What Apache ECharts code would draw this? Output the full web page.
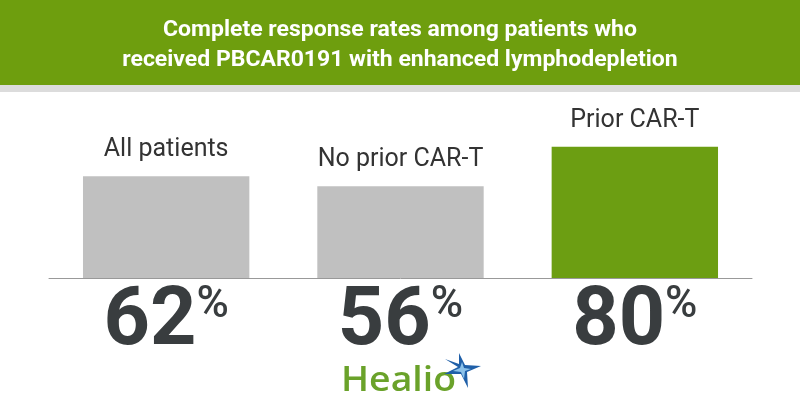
<!DOCTYPE html>
<html>
<head>
<meta charset="utf-8">
<script src="https://cdn.jsdelivr.net/npm/echarts@6/dist/echarts.min.js"></script>
<style>
  html, body { margin: 0; padding: 0; background: #fff; }
  #chart { width: 800px; height: 420px; }
</style>
</head>
<body>
<div id="chart"></div>
<script>
// data
const groups = ['All patients', 'No prior CAR-T', 'Prior CAR-T'];
const rates = [62, 56, 80];
const barColors = ['#c0c0c0', '#c0c0c0', '#6c9e12'];

const titleLines = [
  'Complete response rates among patients who',
  'received PBCAR0191 with enhanced lymphodepletion'
];

var myChart = echarts.init(document.getElementById('chart'));

const option = {
  backgroundColor: '#fff',
  animation: false,
  grid: { left: 49, right: 48, top: 114, bottom: 142 },
  graphic: [
    // green header band + grey strip under it
    { type: 'rect', left: 0, top: 0, shape: { width: 800, height: 85 }, style: { fill: '#6e9e0e' }, z: 0 },
    { type: 'rect', left: 0, top: 85, shape: { width: 800, height: 7 }, style: { fill: '#dcdcdc' }, z: 0 },
    {
      type: 'text', x: 400, y: 19, scaleX: 1.045, z: 2,
      style: { text: titleLines[0], fill: '#fff', align: 'center', verticalAlign: 'top', font: 'bold 22px Roboto' }
    },
    {
      type: 'text', x: 400, y: 49, scaleX: 1.045, z: 2,
      style: { text: titleLines[1], fill: '#fff', align: 'center', verticalAlign: 'top', font: 'bold 22px Roboto' }
    },
    // Healio logo
    {
      type: 'text', x: 341, y: 364, scaleX: 1.1, z: 2,
      style: { text: 'Healio', fill: '#6aa22a', verticalAlign: 'top', font: '600 34px "Open Sans"' }
    },
    {
      type: 'polygon', z: 3,
      shape: { points: [[459, 353], [465, 365], [481, 366], [467, 372], [468, 388], [461, 374], [444, 374], [458, 367], [445, 359], [459, 364]] },
      style: { fill: '#1f5fa8' }
    },
    {
      type: 'polygon', z: 4,
      shape: { points: [[462, 362], [464, 368], [471, 369], [465, 371], [464, 379], [461, 372], [453, 371], [460, 368]] },
      style: { fill: '#8cc2ea' }
    }
  ],
  xAxis: {
    type: 'category',
    data: groups,
    axisLine: { lineStyle: { color: '#999', width: 1 } },
    axisTick: { show: false },
    axisLabel: {
      margin: 6,
      formatter: function (v, i) { return '{n|' + rates[i] + '}{p|%}'; },
      rich: {
        n: { fontFamily: 'Roboto', fontWeight: 'bold', fontSize: 81, lineHeight: 80, color: '#393d3f' },
        p: { fontFamily: 'Roboto', fontWeight: 500, fontSize: 44, lineHeight: 44, color: '#393d3f', verticalAlign: 'top' }
      }
    }
  },
  yAxis: { type: 'value', min: 0, max: 100, show: false },
  series: [{
    type: 'bar',
    barWidth: '71%',
    data: rates.map((v, i) => ({ value: v, itemStyle: { color: barColors[i] } })),
    label: {
      show: true,
      position: 'top',
      distance: 14,
      formatter: '{b}',
      fontFamily: 'Roboto',
      fontSize: 25,
      color: '#333'
    }
  }]
};

myChart.setOption(option);
</script>
</body>
</html>
